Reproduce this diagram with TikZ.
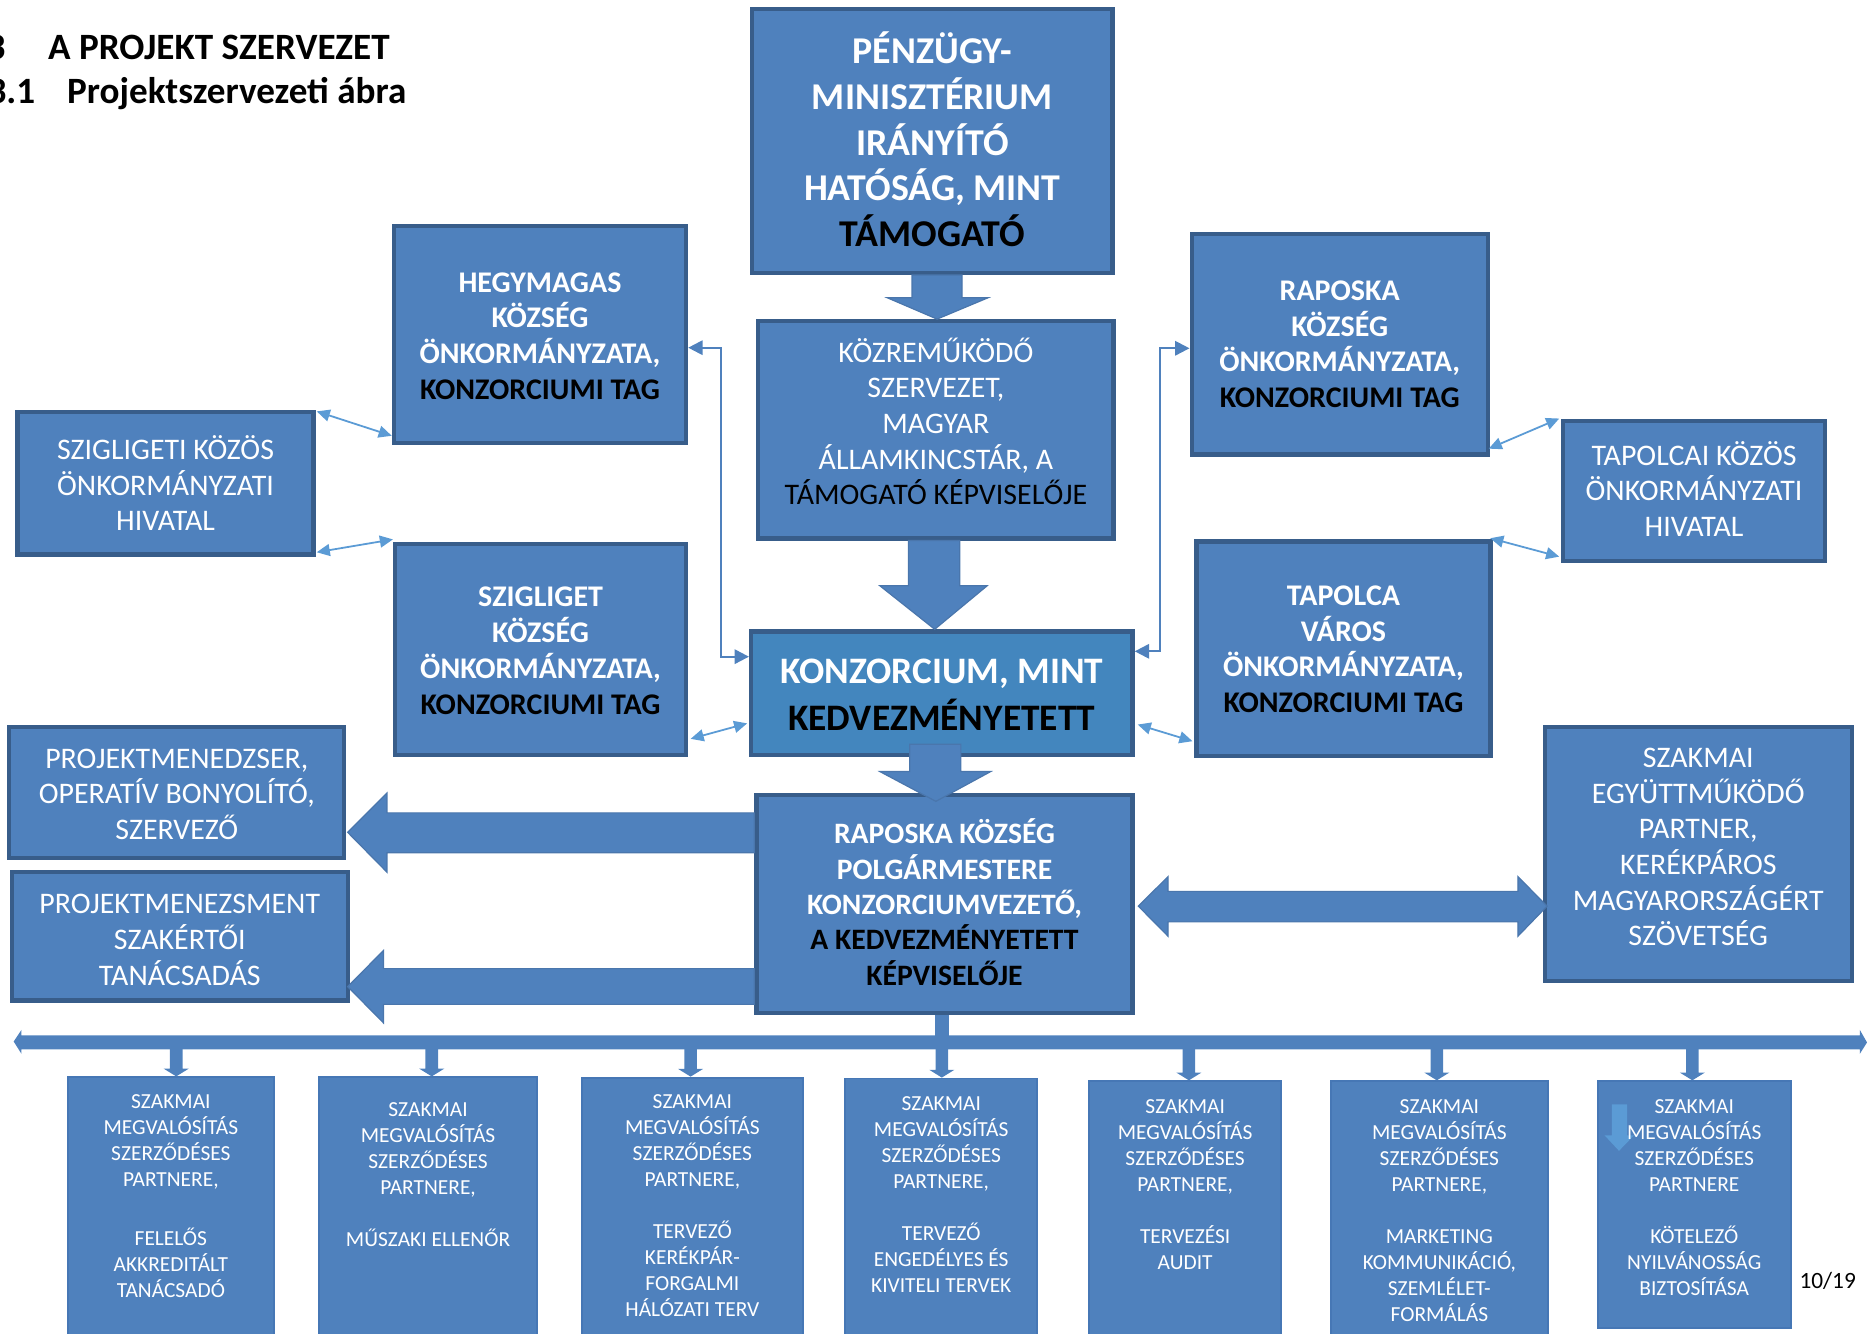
\documentclass[tikz,border=0pt]{standalone}
\usepackage{fontspec}
\setmainfont{Carlito}
\usetikzlibrary{arrows.meta,calc,fit}
\definecolor{boxfill}{HTML}{4F81BD}
\definecolor{boxline}{HTML}{385D8A}
\definecolor{konzfill}{HTML}{4386BE}
\definecolor{arrline}{HTML}{4A76AC}
\definecolor{thinline}{HTML}{4677B5}
\definecolor{lblue}{HTML}{5B9BD5}
\tikzset{
  bigbox/.style={draw=boxline, line width=1.8pt, fill=boxfill, inner sep=-0.9pt},
  smallbox/.style={draw=thinline, line width=0.8pt, fill=boxfill, inner sep=-0.4pt},
  mtext/.style={text=white, align=center, inner sep=0pt, anchor=north},
  blockarrow/.style={fill=boxfill, draw=arrline, line width=0.5pt},
  conn/.style={draw=boxfill, line width=0.9pt, {Triangle[length=6pt,width=6pt]}-{Triangle[length=6pt,width=6pt]}},
  lconn/.style={draw=lblue, line width=0.75pt, {Triangle[length=5.5pt,width=5pt]}-{Triangle[length=5.5pt,width=5pt]}},
  fbold/.style={font=\fontsize{12.6}{15}\selectfont\bfseries},
  freg/.style={font=\fontsize{12.55}{15}\selectfont},
  btext/.style={text=white, align=center, inner sep=0pt, anchor=north, font=\fontsize{9}{10.9}\selectfont},
  ttl/.style={inner sep=0pt, font=\fontsize{15.6}{19}\selectfont\bfseries},
}
\newcommand\bk[1]{\textcolor{black}{#1}}
\newcommand\myStrutA{\rule{0pt}{11.5pt}}
\newcommand\myStrutB{\rule{0pt}{14.5pt}}
\begin{document}
\begin{tikzpicture}[x=0.5pt,y=-0.5pt]
\useasboundingbox (0,0) rectangle (1568,1120);

% titles
\node[ttl, anchor=base east] (t1n) at (5,50) {3};
\node[ttl, anchor=base west] (t1) at (40,50) {A PROJEKT SZERVEZET};
\node[ttl, anchor=base east] (t2n) at (30,87) {3.1};
\node[ttl, anchor=base west] (t2) at (56,87) {Projektszervezeti ábra};

% main boxes
\node[bigbox, fit={(630,6)(936,231)}] (pm) {};
\node[bigbox, fit={(635,268)(937,454)}] (koz) {};
\node[bigbox, fill=konzfill, fit={(629,528.5)(953,636)}] (konz) {};
\node[bigbox, fit={(633.5,666)(953,852.5)}] (pol) {};
\node[bigbox, fit={(329,188)(578,374)}] (heg) {};
\node[bigbox, fit={(13,344)(265,467.5)}] (szt) {};
\node[bigbox, fit={(330,455)(578,636)}] (szg) {};
\node[bigbox, fit={(999,195)(1251.3,383.5)}] (rap) {};
\node[bigbox, fit={(1311,352)(1534.4,473)}] (tpi) {};
\node[bigbox, fit={(1003,453)(1253.6,637)}] (tap) {};
\node[bigbox, fit={(1295.6,609)(1556.9,825.7)}] (egy) {};
\node[bigbox, fit={(6,609)(291,722.6)}] (pmn) {};
\node[bigbox, fit={(8,730.8)(294,842)}] (pms) {};

% texts of main boxes
\node[mtext, font=\fontsize{15.9}{19.2}\selectfont\bfseries] (pm-t) at (pm.north |- 0,24.2)
  {\myStrutB PÉNZÜGY-\\MINISZTÉRIUM\\IRÁNYÍTÓ\\HATÓSÁG, MINT\\\bk{TÁMOGATÓ}};
\node[mtext, freg] (koz-t) at (koz.north |- 0,280.7)
  {\myStrutA KÖZREMŰKÖDŐ\\SZERVEZET,\\MAGYAR\\ÁLLAMKINCSTÁR, A\\\bk{TÁMOGATÓ KÉPVISELŐJE}};
\node[mtext, font=\fontsize{15.7}{19.5}\selectfont\bfseries] (konz-t) at (konz.north |- 0,545)
  {\myStrutB KONZORCIUM, MINT\\\bk{KEDVEZMÉNYETETT}};
\node[mtext, font=\fontsize{12.45}{14.85}\selectfont\bfseries] (pol-t) at (pol.north |- 0,685.3)
  {\myStrutA RAPOSKA KÖZSÉG\\POLGÁRMESTERE\\KONZORCIUMVEZETŐ,\\\bk{A KEDVEZMÉNYETETT}\\\bk{KÉPVISELŐJE}};
\node[mtext, fbold] (heg-t) at (heg.north |- 0,222)
  {\myStrutA HEGYMAGAS\\KÖZSÉG\\ÖNKORMÁNYZATA,\\\bk{KONZORCIUMI TAG}};
\node[mtext, freg] (szt-t) at (szt.north |- 0,362.5)
  {\myStrutA SZIGLIGETI KÖZÖS\\ÖNKORMÁNYZATI\\HIVATAL};
\node[mtext, fbold] (szg-t) at (szg.north |- 0,486.3)
  {\myStrutA SZIGLIGET\\KÖZSÉG\\ÖNKORMÁNYZATA,\\\bk{KONZORCIUMI TAG}};
\node[mtext, fbold] (rap-t) at (rap.north |- 0,229)
  {\myStrutA RAPOSKA\\KÖZSÉG\\ÖNKORMÁNYZATA,\\\bk{KONZORCIUMI TAG}};
\node[mtext, freg] (tpi-t) at (tpi.north |- 0,367.3)
  {\myStrutA TAPOLCAI KÖZÖS\\ÖNKORMÁNYZATI\\HIVATAL};
\node[mtext, fbold] (tap-t) at (tap.north |- 0,485)
  {\myStrutA TAPOLCA\\VÁROS\\ÖNKORMÁNYZATA,\\\bk{KONZORCIUMI TAG}};
\node[mtext, freg] (egy-t) at (egy.north |- 0,621)
  {\myStrutA SZAKMAI\\EGYÜTTMŰKÖDŐ\\PARTNER,\\KERÉKPÁROS\\MAGYARORSZÁGÉRT\\SZÖVETSÉG};
\node[mtext, freg] (pmn-t) at (pmn.north |- 0,621.8)
  {\myStrutA PROJEKTMENEDZSER,\\OPERATÍV BONYOLÍTÓ,\\SZERVEZŐ};
\node[mtext, freg] (pms-t) at (pms.north |- 0,744)
  {\myStrutA PROJEKTMENEZSMENT\\SZAKÉRTŐI\\TANÁCSADÁS};

% bottom boxes
\node[smallbox, fit={(56,904)(231,1140)}] (b1) {};
\node[smallbox, fit={(267,904)(452,1140)}] (b2) {};
\node[smallbox, fit={(488,904.2)(675,1140)}] (b3) {};
\node[smallbox, fit={(709,905)(872,1140)}] (b4) {};
\node[smallbox, fit={(914,907.3)(1076.7,1140)}] (b5) {};
\node[smallbox, fit={(1117,907.3)(1300.7,1140)}] (b6) {};
\node[smallbox, fit={(1341,907.3)(1504.8,1116)}] (b7) {};

% small light arrow inside last box
\fill[lblue] (1353.7,927.4) -- (1353.7,953.6) -- (1347.7,953.6) -- (1359.7,966.5) -- (1372.2,953.6) -- (1366.5,953.6) -- (1366.5,927.4) -- cycle;

\node[btext] (b1t) at ($(b1.north)+(0,15)$)
  {SZAKMAI\\MEGVALÓSÍTÁS\\SZERZŐDÉSES\\PARTNERE,\\[14pt]FELELŐS\\AKKREDITÁLT\\TANÁCSADÓ};
\node[btext] (b2t) at ($(b2.north)+(0,21.5)$)
  {SZAKMAI\\MEGVALÓSÍTÁS\\SZERZŐDÉSES\\PARTNERE,\\[11pt]MŰSZAKI ELLENŐR};
\node[btext] (b3t) at ($(b3.north)+(0,15)$)
  {SZAKMAI\\MEGVALÓSÍTÁS\\SZERZŐDÉSES\\PARTNERE,\\[11pt]TERVEZŐ\\KERÉKPÁR-\\FORGALMI\\HÁLÓZATI TERV};
\node[btext] (b4t) at ($(b4.north)+(0,15.7)$)
  {SZAKMAI\\MEGVALÓSÍTÁS\\SZERZŐDÉSES\\PARTNERE,\\[11pt]TERVEZŐ\\ENGEDÉLYES ÉS\\KIVITELI TERVEK};
\node[btext] (b5t) at ($(b5.north)+(0,15.5)$)
  {SZAKMAI\\MEGVALÓSÍTÁS\\SZERZŐDÉSES\\PARTNERE,\\[11pt]TERVEZÉSI\\AUDIT};
\node[btext] (b6t) at ($(b6.north)+(0,15.5)$)
  {SZAKMAI\\MEGVALÓSÍTÁS\\SZERZŐDÉSES\\PARTNERE,\\[11pt]MARKETING\\KOMMUNIKÁCIÓ,\\SZEMLÉLET-\\FORMÁLÁS};
\node[btext] (b7t) at ($(b7.north)+(0,15.5)$)
  {SZAKMAI\\MEGVALÓSÍTÁS\\SZERZŐDÉSES\\PARTNERE\\[11pt]KÖTELEZŐ\\NYILVÁNOSSÁG\\BIZTOSÍTÁSA};

% page number
\node[inner sep=0pt, font=\fontsize{9.8}{12}\selectfont] (pg) at (1535,1076) {10/19};

% block arrows
\draw[blockarrow] (766,0 |- pm.south) -- (766,250) -- (745,250) -- (787,0 |- koz.north) -- (830,250) -- (808,250) -- (808,0 |- pm.south) -- cycle;
\draw[blockarrow] (763,0 |- koz.south) -- (763,492) -- (739,492) -- (785,0 |- konz.north) -- (829,492) -- (806,492) -- (806,0 |- koz.south) -- cycle;
\draw[blockarrow] (764,625) -- (764,648) -- (739,648) -- (786,673) -- (832,648) -- (807,648) -- (807,625) -- cycle;
\draw[blockarrow] (pol.west |- 0,682.7) -- (325,682.7) -- (325,666) -- (292,699) -- (325,732.5) -- (325,716.2) -- (pol.west |- 0,716.2) -- cycle;
\draw[blockarrow] (pol.west |- 0,813.5) -- (322,813.5) -- (322,798.3) -- (292,828.6) -- (322,859) -- (322,843.5) -- (pol.west |- 0,843.5) -- cycle;
\draw[blockarrow] (956,761) -- (981,736.2) -- (981,748.6) -- (1274.8,748.6) -- (1274.8,736.2) -- (1299.3,761) -- (1274.8,786.3) -- (1274.8,774.2) -- (981,774.2) -- (981,786.3) -- cycle;

% distribution bus
\fill[boxfill] (785.5,0 |- pol.south) rectangle (797,872);
\fill[boxfill] (18,869.6) -- (18,865) -- (11.5,874.7) -- (18,885) -- (18,881.4) -- (1562,881.4) -- (1562,885) -- (1568,875.5) -- (1562,865) -- (1562,869.6) -- cycle;
\foreach \cx/\bn in {148/b1, 362.6/b2, 580/b3, 791/b4, 998.5/b5, 1206.7/b6, 1421.3/b7}{
  \fill[boxfill] (\cx-5.3,880) -- ($(\cx-5.3,0 |- \bn.north)+(0,-6.5)$) -- ($(\cx-10.5,0 |- \bn.north)+(0,-6.5)$)
    -- (\cx,0 |- \bn.north) -- ($(\cx+10.5,0 |- \bn.north)+(0,-6.5)$) -- ($(\cx+5.3,0 |- \bn.north)+(0,-6.5)$)
    -- (\cx+5.3,880) -- cycle;
}

% elbow connectors
\draw[conn] ($(heg.east)+(0,11)$) -- (605.4,292) -- (605.4,551.5) -- ($(konz.west)+(0,-30.75)$);
\draw[conn] ($(rap.west)+(0,3.25)$) -- (974,292.5) -- (974,547) -- ($(konz.east)+(0,-35.25)$);

% light blue double arrows
\draw[lconn] ($(szt.north east)+(1,1.5)$) -- ($(heg.south west)+(0,-8)$);
\draw[lconn] ($(szt.south east)+(1,-3.7)$) -- ($(szg.north west)+(0,-2)$);
\draw[lconn] ($(szg.south east)+(2,-15.5)$) -- ($(konz.south west)+(-1.5,-28.5)$);
\draw[lconn] ($(konz.south east)+(2.5,-27.5)$) -- ($(tap.south west)+(-1.5,-14.5)$);
\draw[lconn] ($(rap.south east)+(-1,-6.7)$) -- ($(tpi.north west)+(-1.5,-0.5)$);
\draw[lconn] ($(tap.north east)+(-2,-1)$) -- ($(tpi.south west)+(-1.5,-5.5)$);
\end{tikzpicture}
\end{document}
